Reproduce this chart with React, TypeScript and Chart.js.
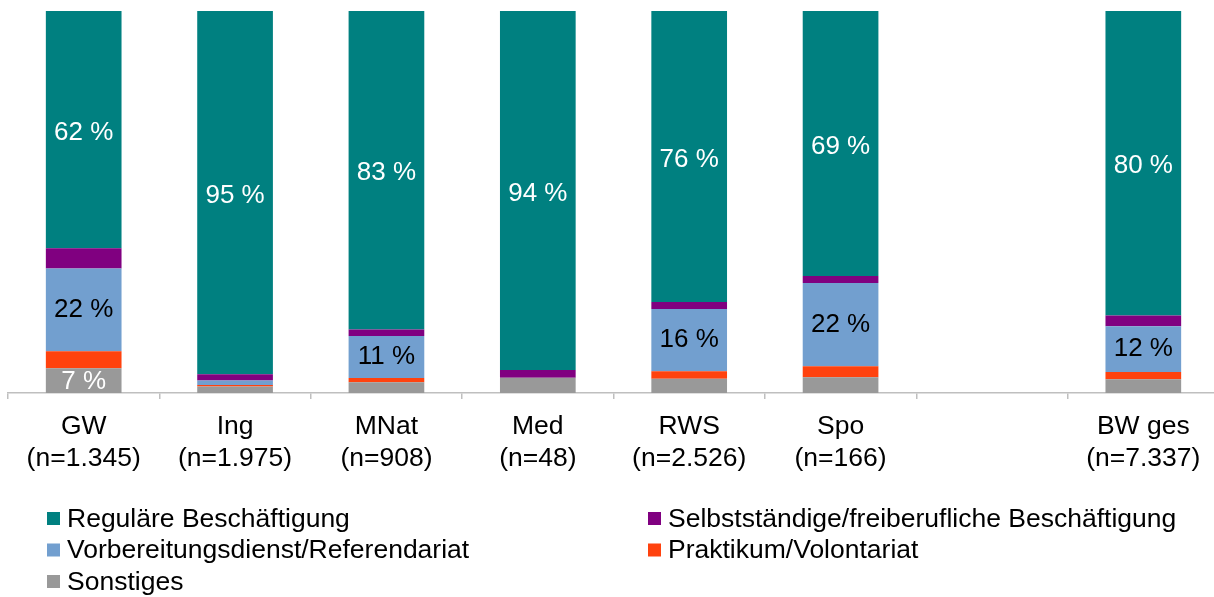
import React, { useEffect, useRef } from "react";
import { Chart, registerables } from "chart.js";

Chart.register(...registerables);

const categories: string[][] = [
  ["GW", "(n=1.345)"],
  ["Ing", "(n=1.975)"],
  ["MNat", "(n=908)"],
  ["Med", "(n=48)"],
  ["RWS", "(n=2.526)"],
  ["Spo", "(n=166)"],
  [""],
  ["BW ges", "(n=7.337)"],
];

const sonstiges = [6.5, 1.7, 2.8, 4.0, 3.7, 4.1, null, 3.6];
const praktikum = [4.4, 0.4, 1.1, 0, 2.0, 2.9, null, 1.9];
const vorbereitung = [21.7, 1.2, 11.0, 0, 16.3, 21.8, null, 12.0];
const selbststaendig = [5.3, 1.6, 1.7, 2.0, 1.8, 1.8, null, 2.8];
const regulaer = [62.1, 95.1, 83.4, 94.0, 76.2, 69.4, null, 79.7];

const seriesNames = [
  "Reguläre Beschäftigung",
  "Selbstständige/freiberufliche Beschäftigung",
  "Vorbereitungsdienst/Referendariat",
  "Praktikum/Volontariat",
  "Sonstiges",
];

const FONT = "'Liberation Sans', Arial, sans-serif";

export default function App() {
  const ref = useRef<HTMLCanvasElement | null>(null);

  useEffect(() => {
    document.body.style.margin = "0";
    document.body.style.overflow = "hidden";
    const canvas = ref.current;
    if (!canvas) return;

    const datasets = [
      { label: seriesNames[4], data: sonstiges, backgroundColor: "#999999", labelMin: 5, labelColor: "#ffffff", dy: 1 },
      { label: seriesNames[3], data: praktikum, backgroundColor: "#FF420E", labelMin: 1000, labelColor: "#000000", dy: 0 },
      { label: seriesNames[2], data: vorbereitung, backgroundColor: "#729FCF", labelMin: 10, labelColor: "#000000", dy: 0 },
      { label: seriesNames[1], data: selbststaendig, backgroundColor: "#800080", labelMin: 1000, labelColor: "#ffffff", dy: 0 },
      { label: seriesNames[0], data: regulaer, backgroundColor: "#008080", labelMin: 0, labelColor: "#ffffff", dy: 3 },
    ];

    const legendOrder = [4, 3, 2, 1, 0];

    const labelPlugin = {
      id: "segLabels",
      afterDatasetsDraw(chart: any) {
        const ctx = chart.ctx;
        ctx.save();
        ctx.font = `26px ${FONT}`;
        ctx.textAlign = "center";
        ctx.textBaseline = "middle";
        chart.data.datasets.forEach((ds: any, di: number) => {
          const meta = chart.getDatasetMeta(di);
          meta.data.forEach((el: any, i: number) => {
            const v = ds.data[i];
            if (v == null || v < ds.labelMin || v <= 0) return;
            const { x, y, base } = el.getProps(["x", "y", "base"], true);
            ctx.fillStyle = ds.labelColor;
            ctx.fillText(`${Math.round(v)} %`, x, (y + base) / 2 + ds.dy);
          });
        });
        ctx.restore();
      },
    };

    const legendPlugin = {
      id: "customLegend",
      afterDraw(chart: any) {
        const ctx = chart.ctx;
        ctx.save();
        ctx.font = `26.5px ${FONT}`;
        ctx.textAlign = "left";
        ctx.textBaseline = "middle";
        const cols = [47, 648];
        const rows = [518.5, 550, 581.5];
        legendOrder.forEach((di, k) => {
          const ds = chart.data.datasets[di];
          const col = cols[k % 2];
          const row = rows[Math.floor(k / 2)];
          ctx.fillStyle = ds.backgroundColor;
          ctx.fillRect(col, row - 6.5, 13, 13);
          ctx.fillStyle = "#000000";
          ctx.fillText(ds.label, col + 20, row + 1);
        });
        ctx.restore();
      },
    };

    const chart = new Chart(canvas, {
      type: "bar",
      data: { labels: categories, datasets: datasets as any },
      options: {
        animation: false,
        responsive: false,
        maintainAspectRatio: false,
        layout: { padding: { left: 8, right: 3, top: 11, bottom: 122 } },
        datasets: { bar: { barPercentage: 0.5, categoryPercentage: 1, borderWidth: 0 } },
        plugins: { legend: { display: false }, tooltip: { enabled: false } },
        scales: {
          x: {
            stacked: true,
            offset: true,
            grid: {
              display: true,
              offset: true,
              drawOnChartArea: false,
              drawTicks: true,
              tickLength: 6,
              color: "#BFBFBF",
              lineWidth: 1.5,
            },
            border: { display: true, color: "#BFBFBF", width: 1.5 },
            ticks: {
              color: "#000000",
              padding: 12,
              maxRotation: 0,
              autoSkip: false,
              font: { family: FONT, size: 26.5, lineHeight: 1.21 },
            },
            afterFit(scale: any) {
              scale.height = 82;
            },
          },
          y: {
            stacked: true,
            display: false,
            min: 0,
            max: 100,
          },
        },
      },
      plugins: [labelPlugin, legendPlugin],
    });

    return () => chart.destroy();
  }, []);

  return (
    <div style={{ position: "absolute", left: 0, top: 0, width: 1222, height: 597 }}>
      <canvas ref={ref} width={1222} height={597} style={{ width: 1222, height: 597, display: "block" }} />
    </div>
  );
}
